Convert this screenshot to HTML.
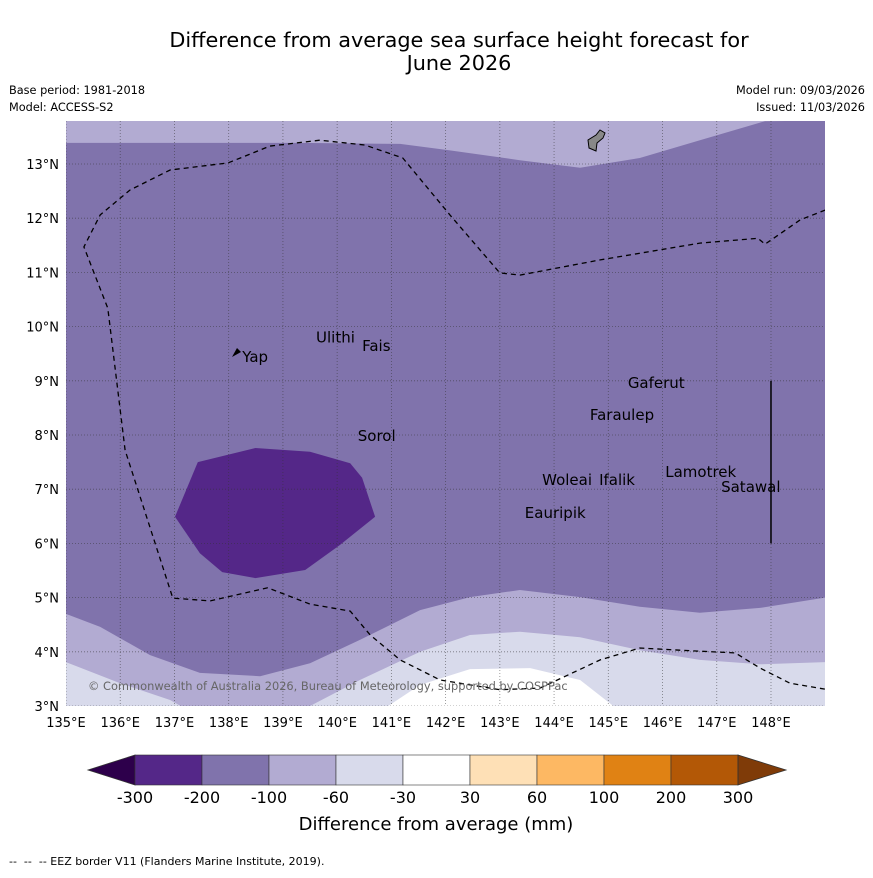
<!DOCTYPE html>
<html><head><meta charset="utf-8"><style>
body{margin:0;background:#fff;font-family:"Liberation Sans","DejaVu Sans",sans-serif}
svg text{font-family:"DejaVu Sans","Liberation Sans",sans-serif}
</style></head><body>
<svg id="c" width="873" height="873" viewBox="0 0 873 873">
<text x="459" y="47" font-size="20.8" text-anchor="middle">Difference from average sea surface height forecast for</text>
<text x="459" y="70" font-size="20.8" text-anchor="middle">June 2026</text>
<text x="9" y="94" font-size="11.3">Base period: 1981-2018</text>
<text x="9" y="111" font-size="11.3">Model: ACCESS-S2</text>
<text x="865" y="94" font-size="11.3" text-anchor="end">Model run: 09/03/2026</text>
<text x="865" y="111" font-size="11.3" text-anchor="end">Issued: 11/03/2026</text>
<defs><clipPath id="mc"><rect x="66" y="121" width="759" height="585"/></clipPath></defs>
<g id="map" clip-path="url(#mc)"></g>
<g id="ov"></g>
<text x="9" y="865" font-size="11" xml:space="preserve">--  --  -- EEZ border V11 (Flanders Marine Institute, 2019).</text>
</svg>
<script>
const NS='http://www.w3.org/2000/svg';
const lonTicks=[135,136,137,138,139,140,141,142,143,144,145,146,147,148];
const latTicks=[3,4,5,6,7,8,9,10,11,12,13];
const topBand=[[135,13.8],[135,13.39],[139.31,13.39],[141.16,13.37],[142.08,13.25],[143.37,13.07],[144.48,12.93],[145.58,13.11],[146.69,13.44],[147.89,13.79],[149,13.8]];
const band100=[[135,4.70],[135.63,4.46],[136.55,3.94],[137.47,3.61],[138.58,3.55],[139.50,3.79],[140.42,4.22],[141.53,4.77],[142.45,5.01],[143.37,5.14],[144.48,5.01],[145.58,4.83],[146.69,4.72],[147.80,4.81],[149,5.0],[149,2.9],[135,2.9]];
const band60a=[[135,3.81],[136,3.42],[136.92,3.11],[137.29,2.9],[135,2.9]];
const band60b=[[139.31,2.9],[140.42,3.48],[141.53,4.0],[142.45,4.31],[143.37,4.37],[144.48,4.27],[145.58,4.03],[146.69,3.85],[147.80,3.77],[149,3.81],[149,2.9]];
const band30=[[140.79,2.9],[141.53,3.39],[142.45,3.68],[143.56,3.70],[144.48,3.48],[145.22,2.9]];
const blob200=[[137.01,6.49],[137.43,7.50],[138.49,7.76],[139.50,7.69],[140.24,7.48],[140.46,7.21],[140.70,6.49],[140.05,5.97],[139.41,5.51],[138.49,5.36],[137.88,5.47],[137.47,5.82]];
const eez=[[149,12.15],[148.54,11.97],[147.89,11.52],[147.76,11.63],[146.69,11.54],[144.85,11.23],[143.37,10.95],[143.0,10.99],[142.08,12.06],[141.21,13.11],[140.51,13.35],[139.68,13.44],[138.76,13.33],[137.99,13.02],[136.92,12.89],[136.18,12.52],[135.63,12.06],[135.33,11.47],[135.77,10.34],[136.09,7.72],[136.97,4.99],[137.66,4.94],[138.72,5.18],[139.50,4.88],[140.24,4.75],[140.61,4.31],[141.16,3.85],[141.90,3.48],[143.0,3.30],[143.74,3.33],[144.85,3.85],[145.58,4.07],[146.32,4.03],[147.34,3.98],[147.80,3.70],[148.35,3.42],[149,3.31]];
const islandNames=['Ulithi','Fais','Yap','Gaferut','Faraulep','Sorol','Lamotrek','Satawal','Woleai','Ifalik','Eauripik'];
const islandLon=[139.61,140.46,138.25,145.36,144.66,140.38,146.05,147.08,143.78,144.83,143.46];
const islandLat=[9.8,9.64,9.44,8.96,8.37,7.98,7.32,7.04,7.17,7.17,6.56];
const cbLabels=['-300','-200','-100','-60','-30','30','60','100','200','300'];
const cbColors=['#542788','#8073ac','#b2abd2','#d8daeb','#ffffff','#fee0b6','#fdb863','#e08214','#b35806'];
const X=lon=>66+(lon-135)*54.23, Y=lat=>706-(lat-3)*54.2;
const map=document.getElementById('map'), ov=document.getElementById('ov'), svg=document.getElementById('c');
function mk(t,a,p){const e=document.createElementNS(NS,t);for(const k in a)e.setAttribute(k,a[k]);(p||map).appendChild(e);return e;}
const pts=a=>a.map(p=>X(p[0]).toFixed(1)+','+Y(p[1]).toFixed(1)).join(' ');
let e=mk('rect',{x:66,y:121,width:759,height:585,fill:'#8073ac'});

[[topBand,'#b2abd2','band-top-minus100'],[band100,'#b2abd2','band-bottom-minus100'],[band60a,'#d8daeb','band-minus60-left'],[band60b,'#d8daeb','band-minus60-right'],[band30,'#ffffff','band-minus30'],[blob200,'#542788','band-minus300-minus200']].forEach(b=>{
 const el=mk('polygon',{points:pts(b[0]),fill:b[1]});
 
 
});
lonTicks.forEach(l=>{const g=mk('line',{x1:X(l),x2:X(l),y1:121,y2:706,stroke:'#333',opacity:0.6,'stroke-width':0.8,'stroke-dasharray':'1,2'});
 const t=mk('text',{x:X(l),y:727,'font-size':13,'text-anchor':'middle'},ov);t.textContent=l+'°E';});
latTicks.forEach(l=>{const g=mk('line',{x1:66,x2:825,y1:Y(l),y2:Y(l),stroke:'#333',opacity:0.6,'stroke-width':0.8,'stroke-dasharray':'1,2'});
 const t=mk('text',{x:59,y:Y(l)+5,'font-size':13,'text-anchor':'end'},ov);t.textContent=l+'°N';});
e=mk('polyline',{points:pts(eez),fill:'none',stroke:'#000','stroke-width':1.3,'stroke-dasharray':'5,4'});

e=mk('line',{x1:X(148),x2:X(148),y1:Y(9),y2:Y(6),stroke:'#000','stroke-width':1.5});

e=mk('path',{d:'M589,148 L588,140 L596,135 L600,130 L605,133 L603,138 L597,143 L596,151 Z',fill:'#888',stroke:'#000','stroke-width':1});

e=mk('path',{d:'M232,357 L237,348 L241,352 Z',fill:'#000'});

islandNames.forEach((n,i)=>{const t=mk('text',{x:X(islandLon[i]),y:Y(islandLat[i])+5,'font-size':15});t.textContent=n;
 });
e=mk('text',{x:88,y:690,'font-size':11.4,fill:'#666'});e.textContent='© Commonwealth of Australia 2026, Bureau of Meteorology, supported by COSPPac';

const cb=document.createElementNS(NS,'g');svg.appendChild(cb);

const cx0=135,cw=67,cy=755,ch=30;
e=mk('polygon',{points:`88,770 ${cx0},${cy} ${cx0},${cy+ch}`,fill:'#2d004b',stroke:'#333','stroke-width':0.8},cb);

cbColors.forEach((c,i)=>{const r=mk('rect',{x:cx0+i*cw,y:cy,width:cw,height:ch,fill:c,stroke:'#333','stroke-width':0.6},cb);
 });
e=mk('polygon',{points:`${cx0+9*cw},${cy} 786,770 ${cx0+9*cw},${cy+ch}`,fill:'#7f3b08',stroke:'#333','stroke-width':0.8},cb);

cbLabels.forEach((l,i)=>{const t=mk('text',{x:cx0+i*cw,y:803,'font-size':16,'text-anchor':'middle'},cb);t.textContent=l;
 });
e=mk('text',{x:436,y:830,'font-size':18,'text-anchor':'middle'},cb);e.textContent='Difference from average (mm)';

</script>
</body></html>
